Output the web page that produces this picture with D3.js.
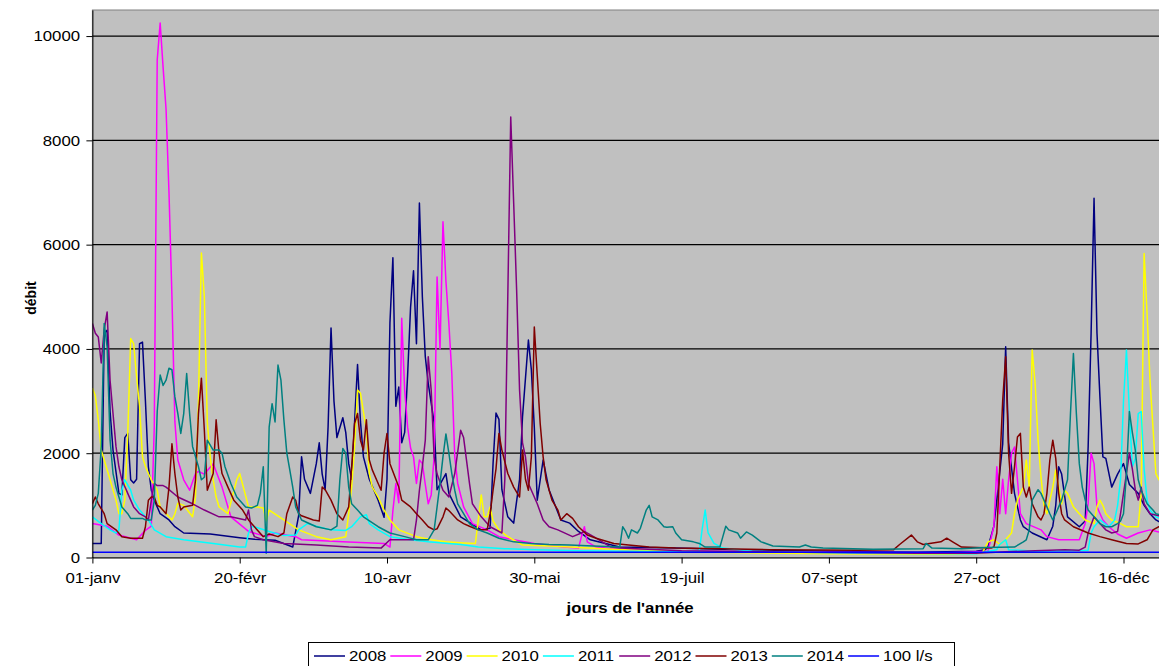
<!DOCTYPE html>
<html>
<head>
<meta charset="utf-8">
<script src="https://cdn.jsdelivr.net/npm/d3@7"></script>
<style>
  body { margin: 0; background: #fff; }
  svg { display: block; font-family: 'Liberation Sans', Arial, sans-serif; }
</style>
</head>
<body>
<div id="chart"></div>
<script>
// Débits journaliers : [jour de l'année, débit]
const s2008 = [[0,270],[3,270],[4,4300],[5,4360],[6,2800],[7,2060],[9,1230],[10,1200],[11,2300],[12,2380],[13,1490],[14,1430],[15,1500],[16,4100],[17,4130],[18,3000],[19,1740],[20,1290],[21,1100],[23,840],[26,720],[28,590],[31,470],[40,450],[50,380],[55,350],[62,330],[68,200],[70,800],[71,1930],[72,1500],[74,1230],[76,1800],[77,2200],[78,1600],[79,1300],[80,2500],[81,4400],[82,3000],[83,2300],[85,2680],[86,2400],[87,1800],[88,1500],[89,2600],[90,3700],[91,2600],[92,1930],[94,1500],[97,1100],[99,770],[100,1500],[101,4500],[102,5750],[103,2900],[104,3270],[105,2200],[106,2400],[107,3500],[108,4800],[109,5500],[110,4100],[111,6800],[112,5000],[113,3850],[114,3340],[116,2580],[117,1300],[120,1610],[121,1230],[125,780],[132,530],[135,560],[136,1800],[137,2770],[138,2650],[139,1300],[141,780],[143,660],[145,1500],[146,2700],[148,4170],[149,3600],[150,2500],[151,1100],[153,1870],[155,1300],[159,720],[162,660],[165,500],[169,340],[179,200],[198,180],[220,150],[250,120],[280,100],[300,120],[303,150],[304,200],[306,600],[307,1100],[309,2180],[310,4040],[311,2200],[313,1230],[315,720],[316,590],[319,470],[324,340],[326,600],[327,1000],[328,1740],[329,1600],[331,780],[335,590],[337,700],[338,2120],[339,4300],[340,6890],[341,4300],[342,3080],[343,1930],[344,1900],[346,1350],[348,1600],[350,1800],[352,1400],[355,1230],[357,1000],[359,840],[361,720],[365,600]];
const s2009 = [[0,650],[5,600],[9,430],[15,340],[18,520],[20,600],[21,2500],[22,9540],[23,10250],[24,9400],[25,8600],[26,7000],[27,5000],[28,2600],[29,1870],[31,1490],[33,1290],[35,1610],[36,1650],[38,1600],[41,1800],[44,1350],[47,780],[53,500],[59,400],[62,470],[69,400],[71,340],[85,300],[99,270],[101,200],[102,900],[103,1420],[104,1050],[105,4590],[106,3210],[107,2500],[108,2100],[109,1930],[110,1420],[111,1870],[112,1800],[113,1400],[114,1030],[115,1200],[116,1930],[117,5380],[118,4000],[119,6440],[120,5300],[121,4490],[122,3530],[123,1930],[124,1420],[126,970],[129,650],[134,530],[138,400],[143,340],[150,270],[160,200],[165,180],[166,400],[167,590],[168,300],[171,200],[180,150],[200,120],[250,100],[290,90],[304,120],[306,600],[307,1740],[308,840],[309,1500],[310,840],[311,1490],[312,2000],[313,2120],[314,1490],[315,840],[317,650],[322,530],[324,400],[328,340],[335,340],[337,650],[338,1040],[339,2000],[340,1800],[341,970],[343,720],[345,590],[348,450],[351,370],[355,470],[359,530],[362,490],[365,480]];
const s2010 = [[0,3250],[1,3100],[2,2640],[3,2060],[4,1870],[6,1490],[8,1100],[9,840],[10,840],[11,1100],[12,2370],[13,4200],[14,4100],[15,3470],[16,2900],[17,1930],[18,1750],[19,1610],[20,1490],[22,1290],[23,970],[26,780],[27,720],[28,840],[29,1040],[31,1000],[34,780],[35,1160],[36,3000],[37,5840],[38,5000],[39,2600],[40,1930],[41,1490],[42,1160],[43,970],[46,840],[49,1490],[50,1610],[51,1400],[53,970],[56,970],[58,950],[59,700],[60,910],[65,720],[70,530],[76,400],[81,340],[86,400],[87,840],[88,1350],[89,2120],[90,3210],[91,3150],[93,2440],[94,1610],[95,1350],[97,1160],[99,910],[101,720],[104,530],[110,400],[115,340],[120,300],[126,280],[130,270],[131,720],[132,1200],[133,780],[134,780],[135,970],[136,700],[138,530],[141,400],[146,240],[155,220],[162,200],[180,150],[210,100],[250,70],[290,60],[302,80],[304,300],[306,340],[308,250],[310,340],[312,470],[313,840],[314,1100],[316,1350],[317,1870],[318,1350],[319,3980],[320,3340],[321,2250],[322,1540],[323,1000],[324,840],[325,1100],[326,1350],[327,1680],[328,1350],[329,1030],[330,1290],[331,1230],[333,970],[335,840],[337,720],[340,650],[341,970],[342,1100],[343,1000],[344,840],[346,720],[349,650],[351,590],[355,590],[356,1230],[357,5830],[358,4680],[359,3400],[360,2500],[361,1610],[362,1500],[365,1200]];
const s2011 = [[0,780],[3,650],[6,530],[8,470],[9,530],[10,1290],[11,1490],[13,1290],[14,1100],[16,910],[19,720],[21,530],[25,400],[31,340],[41,270],[50,200],[52,200],[53,470],[54,590],[55,590],[60,500],[65,420],[69,430],[70,530],[73,650],[75,620],[76,600],[81,530],[86,520],[88,590],[91,780],[93,820],[94,650],[97,530],[101,400],[108,340],[114,300],[125,250],[131,200],[140,170],[150,150],[165,130],[200,110],[206,120],[207,550],[208,910],[209,470],[211,270],[214,180],[224,120],[260,80],[300,70],[307,150],[308,250],[310,340],[311,150],[320,120],[338,140],[339,470],[340,590],[342,720],[345,590],[347,720],[348,1000],[349,1500],[350,3000],[351,3980],[352,2800],[353,1740],[354,1900],[355,2760],[356,2800],[357,1700],[358,1100],[359,910],[361,780],[365,700]];
const s2012 = [[0,4490],[1,4300],[2,4230],[3,3730],[4,4370],[5,4710],[6,3400],[7,2760],[8,2130],[9,1740],[10,1490],[12,1230],[14,970],[16,840],[18,780],[19,720],[20,1100],[21,1420],[22,1380],[24,1380],[25,1350],[29,1160],[34,1030],[38,910],[43,780],[47,780],[52,720],[53,910],[54,530],[55,400],[58,340],[65,270],[76,240],[87,200],[98,180],[101,340],[109,340],[110,720],[111,1290],[112,1740],[113,2250],[114,3850],[115,3210],[116,1930],[117,1600],[119,1290],[121,1160],[123,1610],[125,2440],[126,2300],[128,1420],[129,1030],[132,780],[135,590],[139,470],[140,1500],[141,5000],[142,8450],[143,6800],[144,5130],[145,3210],[146,2200],[147,1930],[148,1420],[151,1030],[153,720],[155,590],[158,530],[163,400],[166,470],[167,500],[171,370],[176,200],[179,180],[200,130],[240,100],[280,80],[300,80],[310,110],[320,130],[330,150],[335,140],[337,200],[338,470],[340,780],[342,650],[344,530],[346,470],[348,500],[349,840],[350,1230],[351,1610],[352,2000],[353,1700],[354,1300],[355,1100],[356,1350],[357,1030],[359,840],[362,800],[365,780]];
const s2013 = [[0,1030],[1,1160],[2,1030],[4,840],[5,650],[8,530],[10,400],[13,370],[17,370],[18,590],[19,1100],[20,1160],[21,1160],[22,1000],[23,970],[25,840],[26,1350],[27,2180],[28,1610],[29,1160],[30,910],[31,970],[34,1000],[35,1490],[36,2760],[37,3440],[38,2440],[39,1290],[41,1610],[42,2640],[43,2000],[44,1610],[46,1350],[48,1100],[51,910],[53,720],[55,590],[58,400],[60,450],[63,400],[65,470],[66,840],[68,1160],[69,1100],[70,840],[71,800],[75,720],[77,700],[78,1350],[79,1300],[81,1100],[83,840],[85,720],[87,970],[88,1740],[89,2570],[90,2760],[91,2250],[92,2060],[93,2640],[94,1870],[95,1680],[97,1420],[98,1290],[99,2000],[100,2380],[101,1800],[103,1500],[104,1350],[105,1100],[108,970],[110,840],[112,720],[114,590],[116,530],[117,550],[119,780],[120,950],[121,900],[124,720],[126,650],[128,600],[131,530],[134,530],[135,840],[136,1290],[137,1700],[138,2380],[139,2060],[141,1610],[143,1350],[145,1160],[146,2060],[147,1500],[148,1290],[149,1930],[150,4420],[151,3500],[152,2570],[153,1930],[154,1490],[156,1100],[158,910],[159,720],[161,840],[163,750],[165,590],[168,430],[171,370],[177,270],[182,240],[189,200],[198,180],[230,150],[260,140],[272,150],[274,250],[278,430],[280,300],[282,250],[288,300],[290,370],[292,300],[295,200],[305,180],[306,200],[307,470],[308,1740],[309,3020],[310,3850],[311,2000],[312,1230],[313,1740],[314,2310],[315,2380],[316,1350],[317,1160],[318,1350],[319,1030],[321,780],[322,720],[323,840],[324,1230],[325,1870],[326,2250],[327,1900],[328,1230],[329,840],[330,720],[333,590],[338,470],[342,400],[346,340],[351,270],[355,260],[358,340],[360,530],[362,590],[365,620]];
const s2014 = [[0,910],[1,1000],[2,1230],[3,2130],[4,4490],[5,4040],[6,2250],[7,1610],[8,1350],[9,1160],[10,970],[12,840],[13,750],[17,750],[18,720],[20,720],[21,1100],[22,2800],[23,3500],[24,3300],[25,3400],[26,3630],[27,3600],[28,3080],[29,2760],[30,2380],[31,2760],[32,3530],[33,2760],[34,2130],[36,1740],[37,1490],[38,1540],[39,2250],[41,2060],[43,2060],[44,2000],[45,1740],[47,1420],[49,1160],[52,970],[54,950],[56,1000],[57,1230],[58,1740],[59,80],[60,2500],[61,2950],[62,2600],[63,3690],[64,3400],[65,2640],[66,2000],[67,1680],[68,1350],[69,970],[71,720],[76,590],[81,530],[83,600],[84,1490],[85,2090],[86,2000],[87,1350],[88,1030],[90,910],[92,780],[97,590],[101,470],[106,400],[110,340],[114,340],[116,530],[117,970],[118,1420],[119,1930],[120,2370],[121,2000],[122,1610],[123,1290],[124,1030],[126,840],[128,650],[131,530],[134,470],[138,370],[143,300],[149,270],[155,250],[162,240],[170,220],[179,200],[180,590],[181,500],[182,370],[183,530],[185,470],[186,560],[188,910],[189,1000],[190,780],[192,720],[194,590],[195,580],[197,590],[198,470],[200,340],[204,300],[206,270],[208,200],[213,200],[214,400],[215,600],[216,530],[219,470],[220,370],[222,490],[224,430],[227,300],[231,220],[240,200],[242,240],[244,200],[248,180],[265,160],[282,170],[283,270],[285,180],[295,170],[303,190],[313,200],[316,300],[317,340],[318,530],[319,1100],[321,1300],[322,1230],[323,1100],[324,970],[325,840],[326,720],[327,840],[328,970],[329,1100],[331,1490],[332,2760],[333,3910],[334,2760],[335,1800],[336,1350],[337,1100],[338,910],[340,780],[342,650],[344,590],[346,590],[348,650],[349,700],[350,840],[351,1600],[352,2800],[353,2400],[354,2060],[355,1490],[356,1290],[358,1030],[360,910],[361,840],[365,780]];
const seuil = [[0,100],[365,100]]; // 100 l/s

const seriesNames = ['2008', '2009', '2010', '2011', '2012', '2013', '2014', '100 l/s'];
const seriesColors = ['#000080', '#FF00FF', '#FFFF00', '#00FFFF', '#800080', '#800000', '#008080', '#0000FF'];
const tickDays = [0, 50, 100, 150, 200, 250, 300, 350];
const tickLabels = ['01-janv', '20-févr', '10-avr', '30-mai', '19-juil', '07-sept', '27-oct', '16-déc'];
const yTicks = [0, 2000, 4000, 6000, 8000, 10000];

const series = [s2008, s2009, s2010, s2011, s2012, s2013, s2014, seuil];

const width = 1159;
const height = 666;
const margin = { top: 10, left: 92.4 };
const plotW = 365 * 2.946; // le graphique d'origine est coupé à droite
const plotH = 547.5;
const stretch = 'scale(1.12,1)'; // texte légèrement étiré comme l'original

const svg = d3
  .select('#chart')
  .append('svg')
  .attr('width', width)
  .attr('height', height);

const x = d3.scaleLinear().domain([0, 365]).range([margin.left, margin.left + plotW]);
const y = d3.scaleLinear().domain([0, 10500]).range([margin.top + plotH, margin.top]);

// Zone de traçage grise
svg
  .append('rect')
  .attr('x', x(0))
  .attr('y', y(10500))
  .attr('width', plotW)
  .attr('height', plotH)
  .attr('fill', '#C0C0C0')
  .attr('stroke', '#808080');

svg
  .append('clipPath')
  .attr('id', 'plot-clip')
  .append('rect')
  .attr('x', x(0))
  .attr('y', y(10500))
  .attr('width', plotW)
  .attr('height', plotH);

// Quadrillage
svg
  .append('g')
  .selectAll('line')
  .data(yTicks.slice(1))
  .join('line')
  .attr('x1', x(0))
  .attr('x2', x(365))
  .attr('y1', (d) => y(d))
  .attr('y2', (d) => y(d))
  .attr('stroke', '#000')
  .attr('stroke-width', 1.2);

// Courbes
const line = d3
  .line()
  .x((d) => x(d[0]))
  .y((d) => y(d[1]));

svg
  .append('g')
  .attr('clip-path', 'url(#plot-clip)')
  .selectAll('path')
  .data(series)
  .join('path')
  .attr('d', line)
  .attr('fill', 'none')
  .attr('stroke', (d, i) => seriesColors[i])
  .attr('stroke-width', 1.5)
  .attr('stroke-linejoin', 'round');

// Axe X
svg
  .append('g')
  .attr('transform', `translate(0,${y(0)})`)
  .call(
    d3
      .axisBottom(x)
      .tickValues(tickDays)
      .tickFormat((d, i) => tickLabels[i])
      .tickSize(6)
      .tickSizeOuter(0)
      .tickPadding(9)
  )
  .attr('font-family', null)
  .attr('font-size', 15)
  .call((g) => g.selectAll('text').attr('fill', '#000').attr('transform', stretch))
  .call((g) => g.selectAll('line, path').attr('stroke', '#000'));

// Axe Y
svg
  .append('g')
  .attr('transform', `translate(${x(0)},0)`)
  .call(d3.axisLeft(y).tickValues(yTicks).tickFormat(d3.format('d')).tickSize(6).tickSizeOuter(0))
  .attr('font-family', null)
  .attr('font-size', 15)
  .call((g) => g.selectAll('text').attr('fill', '#000').attr('x', -11).attr('transform', stretch))
  .call((g) => g.selectAll('line, path').attr('stroke', '#000'));

// Titres des axes
svg
  .append('text')
  .attr('transform', `translate(${x(182.5)},613) ${stretch}`)
  .attr('text-anchor', 'middle')
  .attr('font-size', 15)
  .attr('font-weight', 'bold')
  .text("jours de l'année");

svg
  .append('text')
  .attr('transform', 'translate(36,298) rotate(-90)')
  .attr('text-anchor', 'middle')
  .attr('font-size', 14)
  .attr('font-weight', 'bold')
  .text('débit');

// Légende
const legend = svg.append('g');

legend
  .append('rect')
  .attr('x', 308.5)
  .attr('y', 642.5)
  .attr('width', 646)
  .attr('height', 30)
  .attr('fill', '#fff')
  .attr('stroke', '#000');

const items = legend
  .selectAll('g.item')
  .data(seriesNames)
  .join('g')
  .attr('class', 'item')
  .attr('transform', (d, i) => `translate(${314 + i * 76.3},0)`);

items
  .append('line')
  .attr('x1', 0)
  .attr('x2', 31)
  .attr('y1', 656)
  .attr('y2', 656)
  .attr('stroke', (d, i) => seriesColors[i])
  .attr('stroke-width', 1.5);

items
  .append('text')
  .attr('transform', `translate(35,661) ${stretch}`)
  .attr('font-size', 15)
  .text((d) => d);
</script>
</body>
</html>
